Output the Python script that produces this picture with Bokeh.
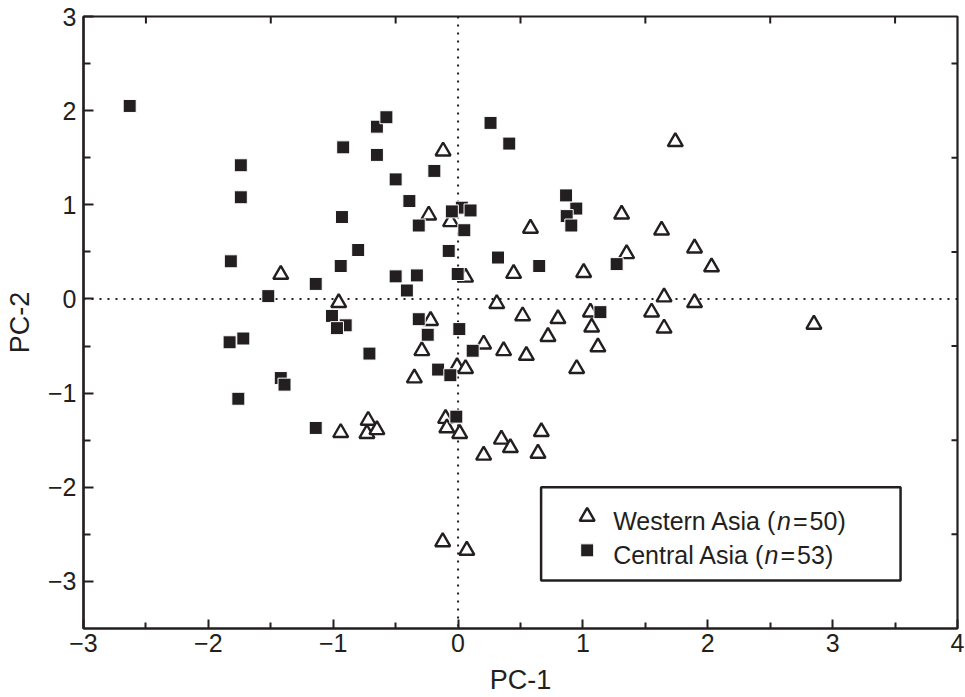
import math
from bokeh.plotting import figure
from bokeh.models import FixedTicker, LinearAxis, Span, BoxAnnotation, Label, Range1d
from bokeh.embed import file_html
from bokeh.resources import INLINE

# ---------------- data ----------------
western_x = [-0.06, 0.06, -0.22, -0.10, -0.09, 1.06,
             -0.12, -0.235, 0.58, 1.31, 1.63, 1.74, -1.42, -0.956, -0.94, -0.72,
             -0.73, -0.65, -0.29, -0.35, -0.008, 0.06, 0.013, 0.445, 1.006, 1.35,
             0.31, 0.517, 0.80, 1.07, 1.12, 0.72, 0.95, 1.65, 1.55, 1.65,
             0.205, 0.365, 0.547, 0.667, 0.347, 0.419, 0.205, 0.64, 1.894, 2.03,
             1.894, 2.85, -0.123, 0.07]
western_y = [0.82, 0.23, -0.23, -1.27, -1.37, -0.14,
             1.57, 0.89, 0.75, 0.90, 0.73, 1.67, 0.26, -0.04, -1.42, -1.29,
             -1.43, -1.39, -0.55, -0.84, -0.72, -0.74, -1.43, 0.27, 0.28, 0.48,
             -0.05, -0.18, -0.21, -0.30, -0.51, -0.40, -0.74, 0.02, -0.14, -0.31,
             -0.48, -0.55, -0.60, -1.41, -1.49, -1.58, -1.66, -1.64, 0.54, 0.34,
             -0.04, -0.27, -2.58, -2.67]

central_x = [-0.65, 0.03, 0.947, 0.87, -1.01, -0.90, -1.42,
             -2.63, -1.74, -1.74, -0.92, -0.93, -0.65, -0.574, -0.50, -0.19, -0.39,
             -0.315, -0.05, 0.10, 0.05, 0.26, 0.41, 0.865, 0.907, -1.82, -1.52,
             -1.14, -0.94, -0.80, -0.97, -1.83, -1.72, -0.71, -1.76, -1.39, -1.14,
             -0.315, -0.243, 0.01, -0.16, -0.062, -0.014, -0.075, 0.32, 0.65, 1.27,
             -0.50, -0.33, -0.41, -0.003, 1.14, 0.117]
central_y = [1.83, 0.97, 0.96, 0.88, -0.18, -0.28, -0.84,
             2.05, 1.42, 1.08, 1.61, 0.87, 1.53, 1.93, 1.27, 1.36, 1.04,
             0.78, 0.93, 0.94, 0.73, 1.87, 1.65, 1.10, 0.78, 0.40, 0.03,
             0.16, 0.35, 0.52, -0.31, -0.46, -0.42, -0.58, -1.06, -0.91, -1.37,
             -0.215, -0.38, -0.32, -0.75, -0.81, -1.25, 0.51, 0.44, 0.35, 0.37,
             0.24, 0.25, 0.09, 0.265, -0.14, -0.55]

x_ticks = [-3, -2, -1, 0, 1, 2, 3, 4]
x_tick_labels = ["\u22123", "\u22122", "\u22121", "0", "1", "2", "3", "4"]
y_ticks = [-3, -2, -1, 0, 1, 2, 3]
y_tick_labels = ["\u22123", "\u22122", "\u22121", "0", "1", "2", "3"]
x_minor = [-2.5, -1.5, -0.5, 0.5, 1.5, 2.5, 3.5]
y_minor = [-2.5, -1.5, -0.5, 0.5, 1.5, 2.5]

x_title = "PC-1"
y_title = "PC-2"
legend_parts = [("Western Asia (", "n", "=", "50)"), ("Central Asia (", "n", "=", "53)")]

# ---------------- style ----------------
INK = "#231f20"
FONT = "Liberation Sans"
TICK_FS = "25px"
LEG_FS = 25
TITLE_FS = "27px"

# Arial / Liberation Sans advance widths (per 1000 em)
ADV = {"W": 944, "e": 556, "s": 500, "t": 278, "r": 333, "n": 556, " ": 278,
       "A": 667, "i": 222, "a": 556, "(": 333, ")": 333, "=": 584, "5": 556,
       "0": 556, "3": 556, "C": 722, "l": 222}


def text_width(s, size):
    return sum(ADV.get(c, 556) for c in s) * size / 1000.0


x_range = Range1d(-3, 4)
y_range = Range1d(-3.5, 3)
p = figure(width=965, height=697, x_range=x_range, y_range=y_range,
           output_backend="svg", toolbar_location=None,
           x_axis_type=None, y_axis_type=None,
           min_border_left=83, min_border_right=8, min_border_top=16, min_border_bottom=69)
p.grid.visible = False
p.outline_line_color = INK
p.outline_line_alpha = 1
p.outline_line_width = 2.2
p.background_fill_color = "white"
p.border_fill_color = "white"


def style_axis(ax, tick_in, minor_in):
    ax.axis_line_color = INK
    ax.axis_line_width = 2.2
    ax.major_tick_line_color = INK
    ax.major_tick_line_width = 2
    ax.minor_tick_line_color = INK
    ax.minor_tick_line_width = 2
    ax.major_tick_in = tick_in
    ax.major_tick_out = 0
    ax.minor_tick_in = minor_in
    ax.minor_tick_out = 0
    ax.major_label_text_font = FONT
    ax.major_label_text_font_size = TICK_FS
    ax.major_label_text_color = INK
    ax.axis_label_text_font = FONT
    ax.axis_label_text_font_size = TITLE_FS
    ax.axis_label_text_font_style = "normal"
    ax.axis_label_text_color = INK


xb = LinearAxis(ticker=FixedTicker(ticks=x_ticks, minor_ticks=x_minor),
                major_label_overrides=dict(zip(x_ticks, x_tick_labels)),
                axis_label=x_title)
style_axis(xb, 9, 6)
xb.major_label_standoff = 5
xb.axis_label_standoff = 10
p.add_layout(xb, "below")

yl = LinearAxis(ticker=FixedTicker(ticks=y_ticks, minor_ticks=y_minor),
                major_label_overrides=dict(zip(y_ticks, y_tick_labels)),
                axis_label=y_title)
style_axis(yl, 10, 7)
yl.major_label_standoff = 7
yl.axis_label_standoff = 10
p.add_layout(yl, "left")

# half-unit ticks on the top and right frame edges (no labels there)
p.ray(x=x_minor, y=[y_range.end] * len(x_minor), length=7, length_units="screen",
      angle=-math.pi / 2, line_color=INK, line_width=2)
p.ray(x=[x_range.end] * len(y_minor), y=y_minor, length=6, length_units="screen",
      angle=math.pi, line_color=INK, line_width=2)

# dotted zero lines
for dim in ("height", "width"):
    p.add_layout(Span(location=0, dimension=dim, line_color=INK, line_width=2,
                      line_dash="2 6", level="underlay"))

# data
TRI = dict(marker="triangle", size=15, fill_color="white", line_color=INK, line_width=2.4)
SQ = dict(marker="square", size=13, fill_color=INK, line_color="white", line_width=1)
p.scatter(western_x, western_y, **TRI)
p.scatter(central_x, central_y, **SQ)

# legend (drawn by hand to allow the italic n)
LEG = dict(left=0.665, right=3.544, top=-2.0, bottom=-2.99,
           sym_x=1.034, sym_y=[-2.31, -2.67], txt_x=1.242, txt_y=[-2.36, -2.72])
p.add_layout(BoxAnnotation(left=LEG["left"], right=LEG["right"], top=LEG["top"],
                           bottom=LEG["bottom"], fill_color="white", fill_alpha=1,
                           line_color=INK, line_alpha=1, line_width=2.5, level="underlay"))
p.scatter([LEG["sym_x"]], [LEG["sym_y"][0]], **TRI)
p.scatter([LEG["sym_x"]], [LEG["sym_y"][1]], **SQ)

GAP = {"normal": 0, "italic": 1, "eq": 2}
for (a, n, eq, b), ty in zip(legend_parts, LEG["txt_y"]):
    off = 0.0
    for part, style, gap in ((a, "normal", 0), (n, "italic", 2), (eq, "normal", 2), (b, "normal", 0)):
        p.add_layout(Label(x=LEG["txt_x"], y=ty, x_offset=off, text=part,
                           text_font=FONT, text_font_size=f"{LEG_FS}px",
                           text_font_style=style, text_color=INK,
                           text_baseline="alphabetic", text_align="left"))
        off += text_width(part, LEG_FS) + gap

open("out.html", "w").write(file_html(p, INLINE))
